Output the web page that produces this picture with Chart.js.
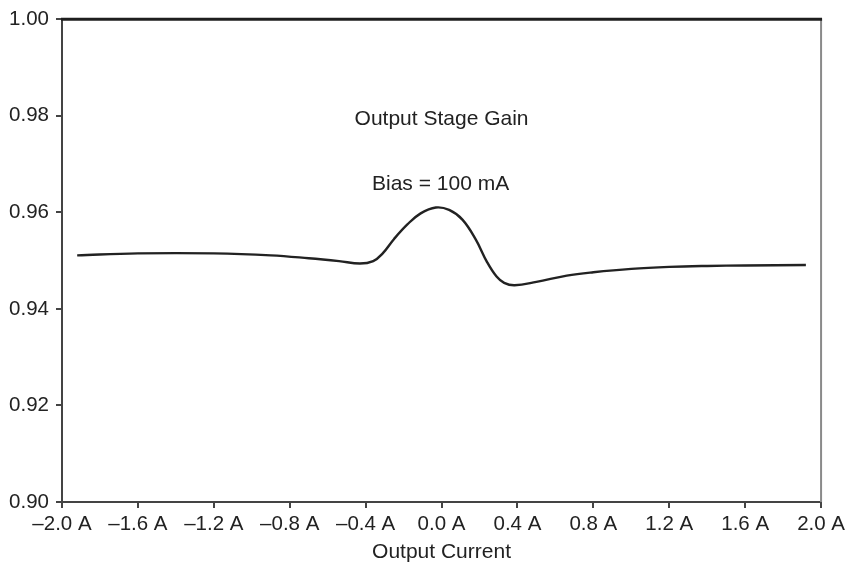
<!DOCTYPE html>
<html>
<head>
<meta charset="utf-8">
<script src="https://cdn.jsdelivr.net/npm/chart.js@4/dist/chart.umd.min.js"></script>
<style>
  html, body { margin: 0; padding: 0; background: #ffffff; }
  #wrap { width: 849px; height: 565px; position: relative; }
</style>
</head>
<body>
<div id="wrap"><canvas id="c"></canvas></div>
<script>
// ---- Data ----
const currents = [-1.92, -1.6, -1.2, -0.9, -0.7, -0.54, -0.43, -0.36, -0.31, -0.25, -0.18, -0.11, -0.03, 0.04, 0.11, 0.18, 0.24, 0.29, 0.33, 0.385, 0.5, 0.66, 0.8, 1.0, 1.2, 1.4, 1.6, 1.92];
const gains    = [0.9511, 0.9515, 0.9515, 0.9511, 0.9505, 0.9499, 0.9494, 0.9499, 0.9515, 0.9545, 0.9575, 0.9598, 0.9610, 0.9605, 0.9585, 0.9544, 0.9497, 0.9467, 0.9454, 0.9449, 0.9456, 0.9469, 0.9476, 0.9483, 0.9487, 0.9489, 0.9490, 0.9491];
const xTickValues = [-2.0, -1.6, -1.2, -0.8, -0.4, 0.0, 0.4, 0.8, 1.2, 1.6, 2.0];
const yTickValues = [0.90, 0.92, 0.94, 0.96, 0.98, 1.00];
const xTitle = 'Output Current';
const annotations = [
  { text: 'Output Stage Gain', x: 0.0, y: 0.9792 },
  { text: 'Bias = 100 mA', x: -0.005, y: 0.9658 }
];

const FONT = 'Liberation Sans, Arial, Helvetica, sans-serif';
const points = currents.map((c, i) => ({ x: c, y: gains[i] }));

const framePlugin = {
  id: 'frame',
  afterDraw(chart) {
    const { ctx, chartArea: a } = chart;
    ctx.save();
    ctx.strokeStyle = '#8a8a8a';
    ctx.lineWidth = 2;
    ctx.beginPath();
    ctx.moveTo(a.right, a.top);
    ctx.lineTo(a.right, a.bottom);
    ctx.stroke();
    ctx.strokeStyle = '#1e1e1e';
    ctx.lineWidth = 3;
    ctx.beginPath();
    ctx.moveTo(a.left - 1, a.top);
    ctx.lineTo(a.right + 1, a.top);
    ctx.stroke();
    const xs = chart.scales.x, ys = chart.scales.y;
    ctx.fillStyle = '#222';
    ctx.font = '21px ' + FONT;
    ctx.textAlign = 'center';
    ctx.textBaseline = 'middle';
    annotations.forEach(an => {
      ctx.fillText(an.text, xs.getPixelForValue(an.x), ys.getPixelForValue(an.y));
    });
    ctx.restore();
  }
};

new Chart(document.getElementById('c'), {
  type: 'line',
  data: {
    datasets: [{
      data: points,
      borderColor: '#222222',
      borderWidth: 2.4,
      pointRadius: 0,
      fill: false,
      tension: 0.4
    }]
  },
  options: {
    responsive: true,
    maintainAspectRatio: false,
    animation: false,
    layout: { padding: { top: 17, right: 27, left: 0, bottom: 0 } },
    plugins: { legend: { display: false }, tooltip: { enabled: false }, title: { display: false } },
    scales: {
      x: {
        type: 'linear',
        min: -2, max: 2,
        afterBuildTicks(scale) { scale.ticks = xTickValues.map(v => ({ value: v })); },
        afterFit(scale) { scale.height = 63; },
        border: { display: true, color: '#444', width: 2 },
        grid: { drawOnChartArea: false, drawTicks: true, tickLength: 6, color: '#444', lineWidth: 2 },
        ticks: {
          color: '#222',
          font: { family: FONT, size: 20.5 },
          padding: 4,
          maxRotation: 0,
          autoSkip: false,
          callback(v) {
            const s = Math.abs(v).toFixed(1) + ' A';
            return v < -1e-9 ? '\u2013' + s : s;
          }
        },
        title: {
          display: true,
          text: xTitle,
          color: '#222',
          font: { family: FONT, size: 21 },
          padding: { top: 0, bottom: 0 }
        }
      },
      y: {
        type: 'linear',
        min: 0.90, max: 1.00,
        afterBuildTicks(scale) { scale.ticks = yTickValues.map(v => ({ value: v })); },
        afterFit(scale) { scale.width = 62; },
        border: { display: true, color: '#444', width: 2 },
        grid: { drawOnChartArea: false, drawTicks: true, tickLength: 6, color: '#444', lineWidth: 2 },
        ticks: {
          color: '#222',
          font: { family: FONT, size: 20.5 },
          padding: 7,
          autoSkip: false,
          callback(v) { return v.toFixed(2); }
        }
      }
    }
  },
  plugins: [framePlugin]
});
</script>
</body>
</html>
